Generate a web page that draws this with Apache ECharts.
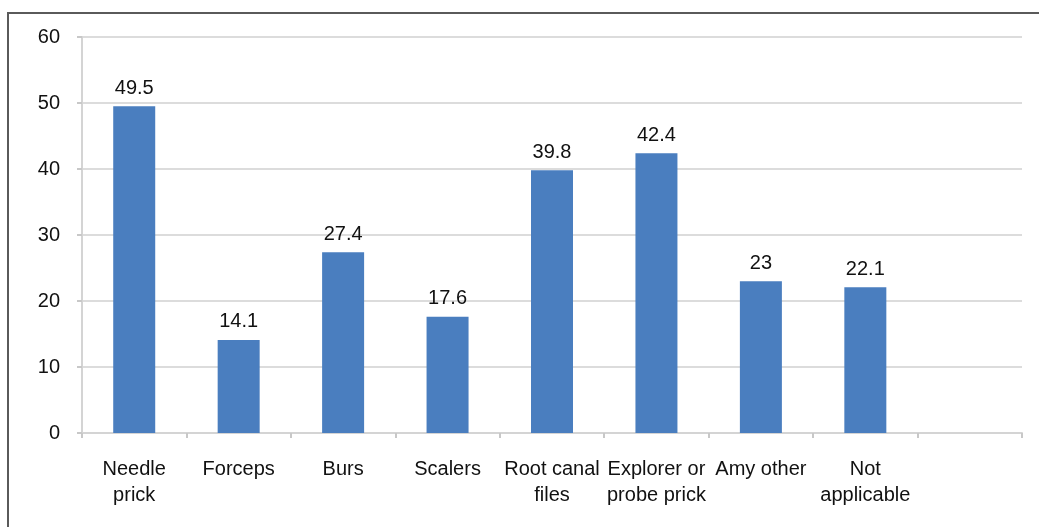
<!DOCTYPE html>
<html>
<head>
<meta charset="utf-8">
<script src="https://cdn.jsdelivr.net/npm/echarts@6/dist/echarts.min.js"></script>
<style>
  html, body { margin: 0; padding: 0; background: #fff; }
  #wrap { position: relative; width: 1039px; height: 527px; overflow: hidden; }
  #frame { position: absolute; left: 7px; top: 12px; right: -10px; bottom: -10px;
           border-top: 2px solid #5a5a5a; border-left: 2px solid #5a5a5a; }
  #chart { position: absolute; left: 0; top: 0; width: 1039px; height: 527px; }
</style>
</head>
<body>
<div id="wrap">
  <div id="frame"></div>
  <div id="chart"></div>
</div>
<script>
// Injury sources (percent); the last slot is left empty
const categories = ['Needle\nprick', 'Forceps', 'Burs', 'Scalers', 'Root canal\nfiles',
                    'Explorer or\nprobe prick', 'Amy other', 'Not\napplicable', ''];
const values = [49.5, 14.1, 27.4, 17.6, 39.8, 42.4, 23, 22.1, null];
const yTicks = [0, 10, 20, 30, 40, 50, 60];

const font = 'Liberation Sans, Arial, sans-serif';
const chart = echarts.init(document.getElementById('chart'), null, { renderer: 'canvas' });
chart.setOption({
  animation: false,
  backgroundColor: 'transparent',
  grid: { left: 82, right: 17, top: 37, bottom: 94, containLabel: false },
  xAxis: {
    type: 'category',
    data: categories,
    boundaryGap: true,
    axisLine: { show: true, lineStyle: { color: '#d4d4d4', width: 2 } },
    axisTick: { show: true, alignWithLabel: false, length: 5, lineStyle: { color: '#c8c8c8', width: 2 } },
    axisLabel: { interval: 0, color: '#111', fontFamily: font, fontSize: 20, lineHeight: 26, margin: 23 },
    splitLine: { show: false }
  },
  yAxis: {
    type: 'value',
    min: yTicks[0],
    max: yTicks[yTicks.length - 1],
    interval: yTicks[1] - yTicks[0],
    axisLine: { show: true, lineStyle: { color: '#d4d4d4', width: 2 } },
    axisTick: { show: true, length: 5, lineStyle: { color: '#c8c8c8', width: 2 } },
    axisLabel: { color: '#111', fontFamily: font, fontSize: 20, margin: 22 },
    splitLine: { show: true, lineStyle: { color: '#dcdcdc', width: 2 } }
  },
  series: [{
    type: 'bar',
    data: values,
    barWidth: 42,
    itemStyle: { color: '#4a7ebf' },
    label: { show: true, position: 'top', distance: 8, color: '#111', fontFamily: font, fontSize: 20 }
  }]
});
</script>
</body>
</html>
